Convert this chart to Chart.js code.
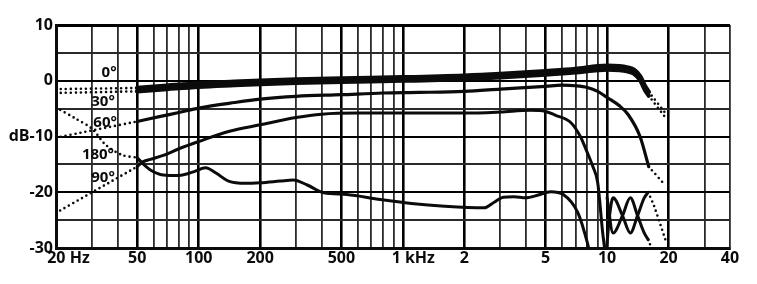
<!DOCTYPE html>
<html>
<head>
<meta charset="utf-8">
<title>Polar frequency response</title>
<script src="https://cdn.jsdelivr.net/npm/chart.js@4.4.1/dist/chart.umd.min.js"></script>
<style>
  html, body { margin: 0; padding: 0; background: #fff; }
  #wrap { width: 757px; height: 284px; }
</style>
</head>
<body>
<div id="wrap"><canvas id="resp" width="757" height="284"></canvas></div>
<script>
// Frequency response at 0°, 30°, 60°, 90° and 180°

// grid and tick labels
const gridFreqs = [20, 30, 40, 50, 60, 70, 80, 90, 100, 200, 300, 400, 500, 600, 700, 800, 900,
  1000, 2000, 3000, 4000, 5000, 6000, 7000, 8000, 9000, 10000, 20000, 30000, 40000];
const xTickValues = [20, 50, 100, 200, 500, 1000, 2000, 5000, 10000, 20000, 40000];
const xTickText = ['      20 Hz', '50', '100', '200', '500', '     1 kHz', '2', '5', '10', '20', '40'];
const yTickValues = [10, 0, -10, -20, -30];
const yTickText = ['10', '0', 'dB-10', '-20', '-30'];

// 0° (solid + dotted ends)
const f0 = [50, 70, 100, 150, 200, 300, 500, 1000, 2000, 3000, 5000, 7000, 9000, 10000, 11500, 12500, 13500, 14500, 15300, 16000];
const db0 = [-1.3, -0.9, -0.5, -0.2, 0.0, 0.2, 0.4, 0.6, 0.9, 1.2, 1.7, 2.1, 2.6, 2.7, 2.6, 2.4, 2.0, 0.8, -0.9, -2.0];
const f0Low = [20, 50], db0Low = [-1.5, -1.3];
const f0High = [16000, 19500], db0High = [-2.0, -6.0];

// 30°
const f30 = [50, 70, 100, 150, 200, 300, 500, 1000, 2000, 3000, 5000, 7000, 9000, 10000, 11500, 12500, 13500, 14500, 15300, 16000];
const db30 = [-1.9, -1.5, -1.1, -0.8, -0.6, -0.4, -0.2, 0.0, 0.3, 0.6, 1.1, 1.5, 1.9, 2.0, 1.9, 1.7, 1.3, 0.1, -1.6, -2.7];
const f30Low = [20, 50], db30Low = [-2.2, -1.9];
const f30High = [16000, 19500], db30High = [-2.7, -6.8];

// 60°
const f60 = [50, 65, 80, 100, 150, 200, 300, 500, 800, 1200, 2000, 3000, 5000, 6000, 7000, 8000, 9000, 10000, 11500, 12700, 14500, 16000];
const db60 = [-7.3, -6.4, -5.7, -4.9, -3.9, -3.3, -2.8, -2.5, -2.2, -2.1, -1.9, -1.5, -1.0, -0.8, -0.9, -1.2, -1.9, -3.0, -4.5, -6.1, -10.0, -15.4];
const f60Low = [20, 50], db60Low = [-10.2, -7.3];
const f60High = [16000, 19000], db60High = [-15.4, -18.5];

// 90°
const f90 = [50, 53, 58, 67, 80, 100, 140, 200, 300, 400, 600, 1000, 2000, 3000, 4200, 5000, 5600, 6600, 7400, 7900, 8500, 9000, 9500, 9800];
const db90 = [-15.4, -14.6, -14.1, -13.4, -12.2, -10.9, -9.1, -7.9, -6.6, -6.0, -5.8, -5.8, -5.8, -5.6, -5.3, -5.5, -6.2, -7.4, -10.0, -12.4, -15.3, -18.3, -27.0, -31.0];
const f90Low = [20, 50], db90Low = [-23.7, -15.4];

// 180°
const f180 = [50, 53, 58, 67, 80, 95, 108, 122, 140, 170, 200, 250, 290, 340, 410, 530, 775, 1100, 1600, 2500, 2800, 3100, 3500, 4000, 4600, 5300, 6100, 7200, 8000, 8300];
const db180 = [-13.8, -14.8, -16.0, -16.9, -17.0, -16.3, -15.6, -16.6, -18.0, -18.4, -18.3, -18.0, -17.8, -18.7, -20.1, -20.4, -21.3, -22.0, -22.5, -22.8, -21.8, -20.9, -20.8, -21.0, -20.5, -19.9, -20.4, -23.7, -29.0, -31.5];
const f180Low = [20, 25, 30, 35, 42, 50], db180Low = [-4.8, -6.8, -8.6, -11.5, -13.3, -13.8];

// high-frequency lobes
const fLobeA = [9900, 10300, 10700, 11900, 13000, 14100, 15200, 15900];
const dbLobeA = [-31.0, -24.0, -21.0, -24.2, -27.3, -24.2, -21.0, -20.0];
const fLobeB = [10000, 10700, 11900, 13000, 14100, 15200, 15900];
const dbLobeB = [-21.0, -27.3, -24.2, -21.0, -24.2, -27.3, -28.5];
const fLobeAHigh = [15900, 17000, 19300], dbLobeAHigh = [-20.0, -22.5, -28.5];
const fLobeBHigh = [15900, 16700], dbLobeBHigh = [-28.5, -30.5];

// angle labels
const angleText = ['0°', '30°', '60°', '180°', '90°'];
const angleFreq = [36.4, 34, 34.8, 32.1, 34];
const angleDb = [1.4, -3.8, -7.5, -13.3, -17.4];

const ink = '#0b0b0b';
const fontFam = '"Open Sans", "DejaVu Sans", sans-serif';

function pts(fs, ds) {
  return fs.map((f, i) => ({ x: f, y: ds[i] }));
}
function solid(fs, ds, w) {
  return { data: pts(fs, ds), borderColor: ink, borderWidth: w, pointRadius: 0,
    cubicInterpolationMode: 'monotone', borderCapStyle: 'round', borderJoinStyle: 'round', fill: false };
}
function dotted(fs, ds) {
  return { data: pts(fs, ds), borderColor: ink, borderWidth: 2.6, pointRadius: 0,
    tension: 0.3, borderDash: [0, 5], borderCapStyle: 'round', fill: false };
}

const angleLabels = {
  id: 'angleLabels',
  afterDatasetsDraw(chart) {
    const { ctx, scales } = chart;
    ctx.save();
    ctx.fillStyle = ink;
    ctx.font = 'bold 15px ' + fontFam;
    ctx.textAlign = 'center';
    ctx.textBaseline = 'middle';
    angleText.forEach((t, i) => {
      ctx.fillText(t, scales.x.getPixelForValue(angleFreq[i]), scales.y.getPixelForValue(angleDb[i]));
    });
    ctx.restore();
  }
};

const majorFreqs = [50, 100, 200, 500, 1000, 2000, 5000, 10000, 20000];

new Chart(document.getElementById('resp').getContext('2d'), {
  type: 'line',
  data: {
    datasets: [
      dotted(f0Low, db0Low), dotted(f30Low, db30Low), dotted(f60Low, db60Low),
      dotted(f90Low, db90Low), dotted(f180Low, db180Low),
      dotted(f0High, db0High), dotted(f30High, db30High), dotted(f60High, db60High),
      dotted(fLobeAHigh, dbLobeAHigh), dotted(fLobeBHigh, dbLobeBHigh),
      solid(f180, db180, 3), solid(f90, db90, 3), solid(fLobeA, dbLobeA, 3), solid(fLobeB, dbLobeB, 3),
      solid(f60, db60, 3.2), solid(f30, db30, 4.2), solid(f0, db0, 4.6)
    ]
  },
  options: {
    responsive: false,
    animation: false,
    events: [],
    layout: { padding: { top: 25, right: 27, left: 0, bottom: 0 } },
    plugins: { legend: { display: false }, tooltip: { enabled: false } },
    scales: {
      x: {
        type: 'logarithmic',
        min: 20,
        max: 40000,
        afterBuildTicks: s => { s.ticks = gridFreqs.map(v => ({ value: v })); },
        afterFit: s => { s.height = 36; },
        border: { display: true, color: ink, width: 3 },
        grid: {
          drawTicks: false,
          color: c => majorFreqs.includes(c.tick && c.tick.value) ? '#000' : '#2a2a2a',
          lineWidth: c => majorFreqs.includes(c.tick && c.tick.value) ? 2.6 : 1.8
        },
        ticks: {
          autoSkip: false,
          maxRotation: 0,
          padding: 1,
          color: ink,
          font: { family: fontFam, size: 16, weight: 'bold' },
          callback: v => {
            const i = xTickValues.indexOf(v);
            return i >= 0 ? xTickText[i] : '';
          }
        }
      },
      y: {
        min: -30,
        max: 10,
        afterFit: s => { s.width = 56; },
        border: { display: true, color: ink, width: 3 },
        grid: {
          drawTicks: false,
          color: c => (c.tick && c.tick.value % 10 === 0) ? '#000' : '#2a2a2a',
          lineWidth: c => (c.tick && c.tick.value === 10) ? 3 : 1.9
        },
        ticks: {
          stepSize: 5,
          padding: 3,
          color: ink,
          font: { family: fontFam, size: 16, weight: 'bold' },
          callback: v => {
            const i = yTickValues.indexOf(v);
            return i >= 0 ? yTickText[i] : '';
          }
        }
      }
    }
  },
  plugins: [angleLabels]
});
</script>
</body>
</html>
